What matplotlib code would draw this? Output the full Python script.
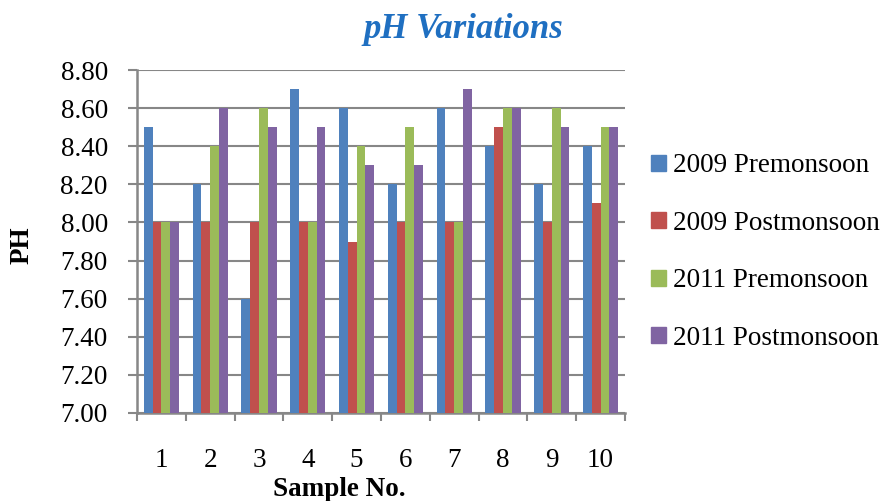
import numpy as np
import matplotlib
matplotlib.use('Agg')
import matplotlib.pyplot as plt
import matplotlib.patches as mpatches
from matplotlib.ticker import FixedLocator, FormatStrFormatter

# ─── Data ──────────────────────────────────────────────────────────────────────
samples = ['1', '2', '3', '4', '5', '6', '7', '8', '9', '10']
series_names = ['2009 Premonsoon', '2009 Postmonsoon',
                '2011 Premonsoon', '2011 Postmonsoon']
pre_2009  = [8.5, 8.2, 7.6, 8.7, 8.6, 8.2, 8.6, 8.4, 8.2, 8.4]
post_2009 = [8.0, 8.0, 8.0, 8.0, 7.9, 8.0, 8.0, 8.5, 8.0, 8.1]
pre_2011  = [8.0, 8.4, 8.6, 8.0, 8.4, 8.5, 8.0, 8.6, 8.6, 8.5]
post_2011 = [8.0, 8.6, 8.5, 8.5, 8.3, 8.3, 8.7, 8.6, 8.5, 8.5]
y_ticks = [7.0, 7.2, 7.4, 7.6, 7.8, 8.0, 8.2, 8.4, 8.6, 8.8]

COLORS = ['#4F81BD', '#C0504D', '#9BBB59', '#8064A2']
GRID = '#878787'
FONT = 'Liberation Serif'

# ─── Figure ────────────────────────────────────────────────────────────────────
fig = plt.figure(figsize=(8.8, 5.01), dpi=100)
fig.patch.set_facecolor('white')
ax = fig.add_axes([137 / 880, 1 - 413 / 501, (625 - 137) / 880, (413 - 70) / 501])

x = np.arange(len(samples))
width = 0.18
all_series = [pre_2009, post_2009, pre_2011, post_2011]
for i, vals in enumerate(all_series):
    heights = np.array(vals) - y_ticks[0]
    ax.bar(x + (i - 1.5) * width, heights, width, bottom=y_ticks[0],
           color=COLORS[i], edgecolor='none', zorder=3)

ax.set_xlim(-0.5, len(samples) - 0.5)
ax.set_ylim(y_ticks[0], y_ticks[-1])
ax.set_yticks(y_ticks)
ax.yaxis.set_major_formatter(FormatStrFormatter('%.2f'))
ax.set_xticks(x)
ax.set_xticklabels(samples)
ax.xaxis.set_minor_locator(FixedLocator(np.arange(-0.5, len(samples), 1.0)))

ax.grid(axis='y', color=GRID, linewidth=1.5, zorder=0)
for side in ['top', 'right']:
    ax.spines[side].set_visible(False)
for side in ['left', 'bottom']:
    ax.spines[side].set_color(GRID)
    ax.spines[side].set_linewidth(1.8)

ax.tick_params(axis='y', which='major', direction='out', length=6.5, width=1.5,
               color=GRID, pad=14.5, labelsize=19.5)
ax.tick_params(axis='x', which='major', length=0, pad=25, labelsize=19.5)
ax.tick_params(axis='x', which='minor', direction='out', length=6, width=1.5,
               color=GRID)
for lbl in ax.get_xticklabels() + ax.get_yticklabels():
    lbl.set_fontfamily(FONT)

# Titles and axis labels
fig.text(463 / 880, 1 - 29 / 501, 'pH Variations', ha='center', va='center',
         fontsize=25, fontweight='bold', fontstyle='italic', color='#1F6FC1',
         family=FONT)
fig.text(339 / 880, 1 - 489 / 501, 'Sample No.', ha='center', va='center',
         fontsize=19.5, fontweight='bold', family=FONT)
fig.text(22 / 880, 1 - 245 / 501, 'PH', ha='center', va='center', rotation=90,
         fontsize=19.5, fontweight='bold', family=FONT)

# Legend
handles = [mpatches.Patch(color=c, label=n) for c, n in zip(COLORS, series_names)]
fig.legend(handles=handles, loc='center left',
           bbox_to_anchor=(651 / 880, 1 - 252 / 501), frameon=False,
           prop={'family': FONT, 'size': 19.5}, handlelength=0.55,
           handleheight=0.55, handletextpad=0.25, labelspacing=1.2,
           borderpad=0, borderaxespad=0)

plt.savefig('out.png', dpi=100, facecolor='white')
plt.close()
